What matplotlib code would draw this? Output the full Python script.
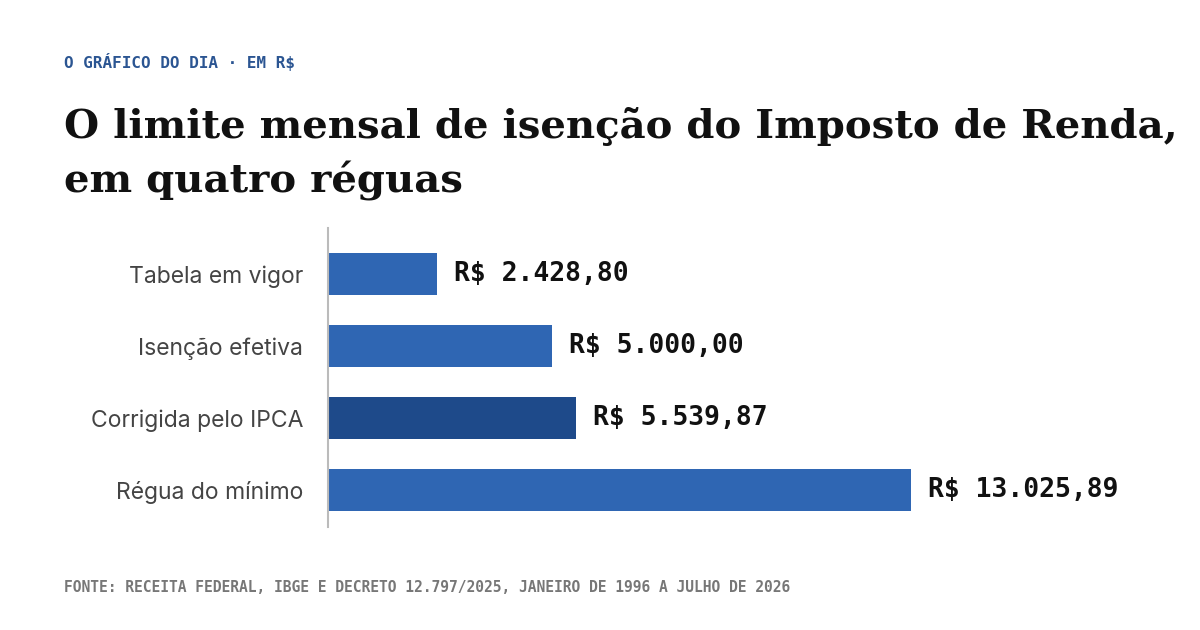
import matplotlib.pyplot as plt

categorias = ["Tabela em vigor", "Isenção efetiva", "Corrigida pelo IPCA", "Régua do mínimo"]
valores = [2428.80, 5000.00, 5539.87, 13025.89]
rotulos = ["R$ 2.428,80", "R$ 5.000,00", "R$ 5.539,87", "R$ 13.025,89"]
destaque = [False, False, True, False]

W, H = 1200, 630
fig = plt.figure(figsize=(W / 100, H / 100), dpi=100)
fig.patch.set_facecolor("white")

# axes placed in pixel coords: x 328..1200, y 228..527 (from top)
ax = fig.add_axes([328 / W, 1 - 527 / H, (W - 328) / W, 299 / H])
cores = ["#1e4a8a" if d else "#2f66b3" for d in destaque]
ypos = list(range(len(valores)))
ax.barh(ypos, valores, height=0.58, color=cores)
ax.set_xlim(0, 19480)
ax.set_ylim(3.51, -0.64)
for y, v, r in zip(ypos, valores, rotulos):
    ax.text(v + 380, y, r, va="center", ha="left", fontsize=19, fontweight="bold",
            family="DejaVu Sans Mono", color="#111111")
ax.set_yticks(ypos)
ax.set_yticklabels(categorias, fontsize=16.5, color="#444444", family="Inter")
ax.tick_params(axis="y", length=0, pad=18)
ax.set_xticks([])
for s in ["top", "right", "bottom"]:
    ax.spines[s].set_visible(False)
ax.spines["left"].set_color("#bbbbbb")
ax.spines["left"].set_linewidth(1.5)

fig.text(64 / W, 1 - 62 / H, "O GRÁFICO DO DIA · EM R$", fontsize=11.5, fontweight="bold",
         family="DejaVu Sans Mono", color="#2b5592", va="center")
fig.text(64 / W, 1 - 126 / H, "O limite mensal de isenção do Imposto de Renda,", fontsize=29,
         fontweight="bold", family="DejaVu Serif", color="#111111", va="center")
fig.text(64 / W, 1 - 181 / H, "em quatro réguas", fontsize=29,
         fontweight="bold", family="DejaVu Serif", color="#111111", va="center")
fig.text(64 / W, 1 - 588 / H,
         "FONTE: RECEITA FEDERAL, IBGE E DECRETO 12.797/2025, JANEIRO DE 1996 A JULHO DE 2026",
         fontsize=10.5, fontweight="bold", family="DejaVu Sans Mono", color="#777777", va="center")

fig.savefig("out.png", dpi=100, facecolor="white")
